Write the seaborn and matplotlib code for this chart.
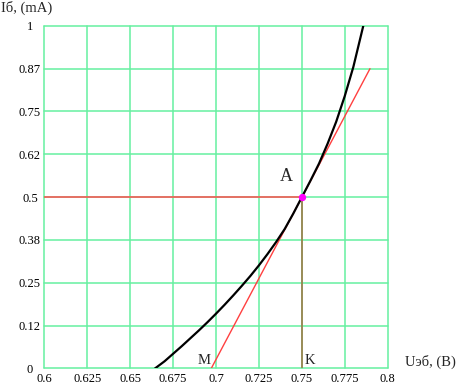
import matplotlib
matplotlib.use("Agg")
import matplotlib.pyplot as plt
import seaborn as sns
import pandas as pd

# Input characteristic
u_curve = [0.6644, 0.670, 0.675, 0.680, 0.685, 0.690, 0.695, 0.700, 0.705, 0.710,
           0.715, 0.720, 0.725, 0.730, 0.735, 0.740, 0.745, 0.750, 0.755, 0.760,
           0.765, 0.770, 0.775, 0.780, 0.7858]
i_curve = [0.0, 0.021, 0.043, 0.065, 0.088, 0.111, 0.135, 0.160, 0.186, 0.213,
           0.241, 0.270, 0.301, 0.334, 0.369, 0.407, 0.452, 0.500, 0.548, 0.598,
           0.656, 0.720, 0.795, 0.880, 1.0]

# Tangent line through A
u_tangent = [0.6972, 0.7897]
i_tangent = [0.0, 0.875]

# Operating point A
u_a = 0.75
i_a = 0.5

x_ticks = [0.6, 0.625, 0.65, 0.675, 0.7, 0.725, 0.75, 0.775, 0.8]
x_labels = ["0.6", "0.625", "0.65", "0.675", "0.7", "0.725", "0.75", "0.775", "0.8"]
y_ticks = [0.0, 0.125, 0.25, 0.375, 0.5, 0.625, 0.75, 0.875, 1.0]
y_labels = ["0", "0.12", "0.25", "0.38", "0.5", "0.62", "0.75", "0.87", "1"]

sns.set_style("white")
plt.rcParams["font.family"] = ["Liberation Serif", "DejaVu Serif"]

fig = plt.figure(figsize=(4.62, 3.85), dpi=100)
ax = fig.add_axes([0.0961, 0.0429, 0.743, 0.890])

grid_color = "#66f0a0"
ax.set_xlim(0.6, 0.8)
ax.set_ylim(0.0, 1.0)
ax.set_xticks(x_ticks)
ax.set_xticklabels(x_labels)
ax.set_yticks(y_ticks)
ax.set_yticklabels(y_labels, ha="center")
ax.tick_params(axis="both", length=0, labelsize=9, colors="black")
ax.tick_params(axis="x", pad=3)
ax.tick_params(axis="y", pad=10.4)
for s in ax.spines.values():
    s.set_visible(False)
for xv in x_ticks:
    ax.axvline(xv, color=grid_color, lw=1.1, zorder=1, clip_on=False)
for yv in y_ticks:
    ax.axhline(yv, color=grid_color, lw=1.1, zorder=1, clip_on=False)

# horizontal and vertical guides to A
ax.plot([0.6, u_a], [i_a, i_a], color="#ff4d4d", lw=1.1, zorder=2)
ax.plot([u_a, u_a], [0.0, i_a], color="#a0703f", lw=1.3, alpha=0.85, zorder=2)

df_c = pd.DataFrame({"U": u_curve, "I": i_curve})
df_t = pd.DataFrame({"U": u_tangent, "I": i_tangent})
sns.lineplot(data=df_t, x="U", y="I", ax=ax, color="#ff4040", lw=1.0, zorder=3, sort=False)
sns.lineplot(data=df_c, x="U", y="I", ax=ax, color="black", lw=1.6, zorder=4, sort=False)
ax.scatter([u_a], [i_a], s=28, color="#ff00ff", zorder=5, linewidths=0)

ax.set_xlabel("")
ax.set_ylabel("")

ax.text(0.7445, 0.535, "A", fontsize=13, ha="right", va="bottom")
ax.text(0.6966, 0.004, "M", fontsize=10.5, ha="right", va="bottom")
ax.text(0.7515, 0.004, "K", fontsize=10.5, ha="left", va="bottom")

fig.text(1 / 462, 1 - 8 / 385, "Iб, (mA)", fontsize=10.5, ha="left", va="center")
fig.text(405 / 462, 1 - 362 / 385, "Uэб, (B)", fontsize=10.5, ha="left", va="center")

fig.savefig("out.png", dpi=100)
